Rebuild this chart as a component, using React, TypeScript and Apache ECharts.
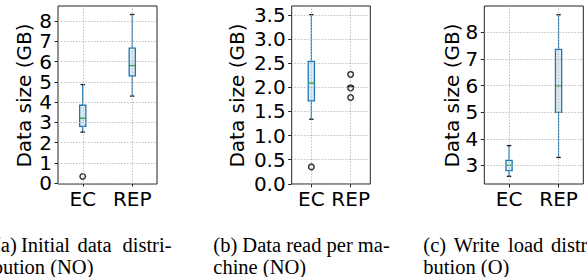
import React, { useEffect, useRef } from "react";
import * as echarts from "echarts";

const categories = ["EC", "REP"];

// Panel (a) Initial data distribution
const aLow = [2.52, 4.3];
const aQ1 = [2.81, 5.3];
const aMed = [3.21, 5.81];
const aQ3 = [3.85, 6.67];
const aHigh = [4.87, 8.33];
const aOutliers: [number, number][] = [[0, 0.33]];
const aTicks = [0, 1, 2, 3, 4, 5, 6, 7, 8];

// Panel (b) Data read per machine
const bLow = [1.34, 2.02];
const bQ1 = [1.72, 2.02];
const bMed = [2.09, 2.02];
const bQ3 = [2.54, 2.02];
const bHigh = [3.51, 2.02];
const bOutliers: [number, number][] = [[0, 0.35], [1, 2.27], [1, 1.99], [1, 1.79]];
const bTicks = [0, 0.5, 1, 1.5, 2, 2.5, 3, 3.5];

// Panel (c) Write load distribution
const cLow = [2.59, 3.3];
const cQ1 = [2.8, 4.99];
const cMed = [3.0, 5.99];
const cQ3 = [3.19, 7.36];
const cHigh = [3.74, 8.66];
const cOutliers: [number, number][] = [];
const cTicks = [3, 4, 5, 6, 7, 8];

const BLUE = "#1f77b4";
const GREEN = "#2ca02c";
const AXIS_FONT = "DejaVu Sans";
const CAP_FONT = "Liberation Serif";

function boxData(low: number[], q1: number[], med: number[], q3: number[], high: number[]) {
  return categories.map((_, i) => [i, low[i], q1[i], med[i], q3[i], high[i]]);
}

const renderBox = (params: any, api: any) => {
  const x = api.value(0);
  const pLow = api.coord([x, api.value(1)]);
  const pQ1 = api.coord([x, api.value(2)]);
  const pMed = api.coord([x, api.value(3)]);
  const pQ3 = api.coord([x, api.value(4)]);
  const pHigh = api.coord([x, api.value(5)]);
  const cx = pLow[0];
  const bw = 3.1;
  const cw = 2.2;
  return {
    type: "group",
    children: [
      { type: "line", shape: { x1: cx, y1: pLow[1], x2: cx, y2: pQ1[1] }, style: { stroke: BLUE, lineWidth: 1.2 } },
      { type: "line", shape: { x1: cx, y1: pQ3[1], x2: cx, y2: pHigh[1] }, style: { stroke: BLUE, lineWidth: 1.2 } },
      {
        type: "rect",
        shape: { x: cx - bw, y: pQ3[1], width: bw * 2, height: Math.max(pQ1[1] - pQ3[1], 0.01) },
        style: { stroke: BLUE, fill: "rgba(31,119,180,0.15)", lineWidth: 1.3 },
      },
      { type: "line", shape: { x1: cx - cw, y1: pLow[1], x2: cx + cw, y2: pLow[1] }, style: { stroke: "#111", lineWidth: 1.3 } },
      { type: "line", shape: { x1: cx - cw, y1: pHigh[1], x2: cx + cw, y2: pHigh[1] }, style: { stroke: "#111", lineWidth: 1.3 } },
      { type: "line", shape: { x1: cx - bw, y1: pMed[1], x2: cx + bw, y2: pMed[1] }, style: { stroke: GREEN, lineWidth: 1.3 } },
    ],
  };
};

export default function App() {
  const ref = useRef<HTMLDivElement>(null);
  useEffect(() => {
    if (!ref.current) return;
    const chart = echarts.init(ref.current, null, { renderer: "svg" });

    const panels = [
      { left: 58, width: 99, min: -0.04, max: 8.75, ticks: aTicks, fmt: (v: number) => String(v), data: boxData(aLow, aQ1, aMed, aQ3, aHigh), out: aOutliers, labelX: 24 },
      { left: 291.7, width: 78.6, min: -0.005, max: 3.69, ticks: bTicks, fmt: (v: number) => v.toFixed(1), data: boxData(bLow, bQ1, bMed, bQ3, bHigh), out: bOutliers, labelX: 237 },
      { left: 484.3, width: 99, min: 2.3, max: 8.99, ticks: cTicks, fmt: (v: number) => String(v), data: boxData(cLow, cQ1, cMed, cQ3, cHigh), out: cOutliers, labelX: 451.5 },
    ];

    const grid: any[] = [];
    const xAxis: any[] = [];
    const yAxis: any[] = [];
    const series: any[] = [];
    const graphic: any[] = [];

    panels.forEach((p, i) => {
      grid.push({ left: p.left, width: p.width, top: 6, height: 178, show: true, borderColor: "#222", borderWidth: 1, backgroundColor: "transparent" });
      xAxis.push({
        type: "category",
        gridIndex: i,
        data: categories,
        boundaryGap: true,
        axisLine: { show: false },
        axisTick: { show: true, alignWithLabel: true, length: 3.5, lineStyle: { color: "#222", width: 1 } },
        axisLabel: { color: "#000", fontFamily: AXIS_FONT, fontSize: 20, margin: 5, interval: 0, hideOverlap: false },
        splitLine: { show: false },
      });
      yAxis.push({
        type: "value",
        gridIndex: i,
        min: p.min,
        max: p.max,
        axisLine: { show: false },
        axisTick: { show: true, length: 3.5, customValues: p.ticks, lineStyle: { color: "#222", width: 1 } },
        axisLabel: { color: "#000", fontFamily: AXIS_FONT, fontSize: 20, margin: 6, customValues: p.ticks, formatter: p.fmt },
        splitLine: { show: false },
      });
      series.push({
        type: "line",
        xAxisIndex: i,
        yAxisIndex: i,
        data: [],
        z: 1,
        silent: true,
        markLine: {
          silent: true,
          symbol: ["none", "none"],
          label: { show: false },
          lineStyle: { color: "#b0b0b0", type: [1.5, 1.5], width: 0.8 },
          data: [
            ...p.ticks.map((v) => ({ yAxis: v })),
            ...categories.map((c) => ({ xAxis: c })),
          ],
        },
      });
      series.push({
        type: "custom",
        xAxisIndex: i,
        yAxisIndex: i,
        z: 3,
        renderItem: renderBox,
        encode: { x: 0, y: [1, 2, 3, 4, 5] },
        data: p.data,
      });
      series.push({
        type: "scatter",
        xAxisIndex: i,
        yAxisIndex: i,
        z: 4,
        symbol: "circle",
        symbolSize: 5.5,
        itemStyle: { color: "rgba(0,0,0,0)", borderColor: "#000", borderWidth: 1.5 },
        data: p.out,
      });
      graphic.push({
        type: "text",
        x: p.labelX,
        y: 95.5,
        rotation: Math.PI / 2,
        style: { text: "Data size (GB)", fontFamily: AXIS_FONT, fontSize: 20, fill: "#000", align: "center", verticalAlign: "middle" },
      });
    });

    const capStyle = { fontFamily: CAP_FONT, fontSize: 20.5, fill: "#000", verticalAlign: "middle" };
    const capWords: [string, number, number][] = [
      ["(a)", -6, 244.5],
      ["Initial", 21, 244.5],
      ["data", 77.5, 244.5],
      ["distri-", 122.5, 244.5],
      ["bution (NO)", -7.3, 266.8],
      ["(b) Data read per ma-", 213.3, 244.5],
      ["chine (NO)", 213.3, 266.8],
      ["(c)", 423.3, 244.5],
      ["Write", 453.7, 244.5],
      ["load", 508, 244.5],
      ["distri-", 551, 244.5],
      ["bution (O)", 423.3, 266.8],
    ];
    capWords.forEach(([t, x, y]) => {
      graphic.push({ type: "text", x, y, style: { ...capStyle, text: t, align: "left" } });
    });

    chart.setOption({
      animation: false,
      backgroundColor: "#fff",
      grid,
      xAxis,
      yAxis,
      series,
      graphic,
    });
    return () => chart.dispose();
  }, []);
  return <div ref={ref} style={{ position: "absolute", left: 0, top: 0, width: 587, height: 277 }} />;
}
